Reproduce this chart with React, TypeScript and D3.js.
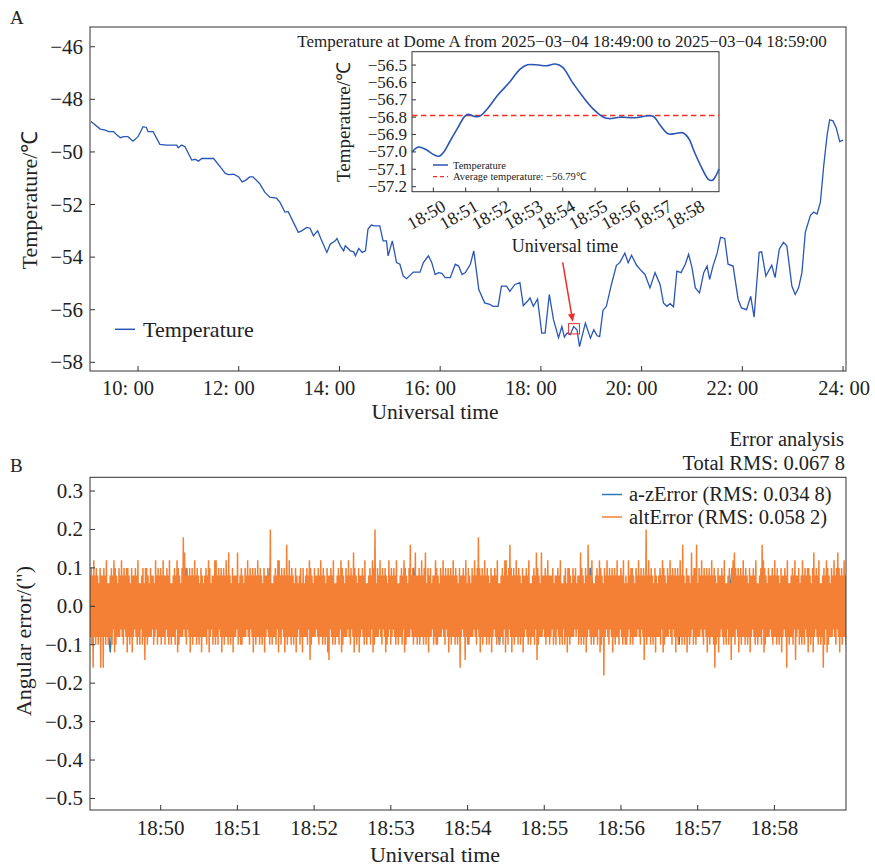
import React from "react";
import * as d3 from "d3";

const W = 875;
const H = 867;
const FONT = "'Liberation Serif', 'Times New Roman', Times, serif";
const BLUE = "#2a56b6";
const RED = "#ee2f27";
const AZ = "#2f7bb8";
const ALT = "#f38034";
const INK = "#222";

// Panel A: temperature over the day (minutes of day, °C)
const tempMinutes = [544, 555, 561, 565, 571, 575, 579, 583, 588, 594, 600, 606, 610, 612, 618, 626, 634, 646, 648, 652, 656, 664, 668, 672, 676, 690, 698, 704, 708, 714, 720, 724, 728, 733, 737, 745, 751, 757, 765, 769, 775, 779, 785, 791, 795, 801, 805, 809, 814, 818, 825, 829, 835, 837, 841, 845, 847, 853, 857, 859, 863, 867, 871, 874, 878, 882, 888, 892, 896, 898, 903, 908, 912, 916, 920, 928, 936, 940, 946, 950, 954, 958, 962, 966, 972, 978, 982, 986, 990, 996, 1000, 1004, 1006, 1013, 1019, 1023, 1029, 1033, 1039, 1043, 1049, 1055, 1059, 1064, 1067, 1071, 1076, 1081, 1085, 1090, 1095, 1101, 1105, 1108, 1111, 1115, 1119, 1123, 1126, 1133, 1139, 1143, 1147, 1150, 1154, 1158, 1164, 1170, 1174, 1180, 1184, 1188, 1194, 1200, 1204, 1210, 1216, 1222, 1226, 1230, 1234, 1238, 1242, 1247, 1252, 1256, 1260, 1264, 1269, 1274, 1278, 1281, 1285, 1290, 1294, 1299, 1303, 1309, 1315, 1319, 1325, 1330, 1334, 1340, 1343, 1348, 1355, 1359, 1364, 1369, 1373, 1379, 1383, 1387, 1391, 1395, 1401, 1405, 1409, 1413, 1417, 1421, 1424, 1428, 1432, 1436, 1440];
const tempValues = [-48.84, -49.13, -49.17, -49.23, -49.23, -49.36, -49.46, -49.42, -49.42, -49.59, -49.42, -49.04, -49.07, -49.23, -49.23, -49.71, -49.74, -49.74, -49.84, -49.74, -49.8, -50.31, -50.28, -50.35, -50.25, -50.25, -50.57, -50.82, -50.86, -50.85, -50.95, -51.14, -51.08, -50.95, -50.95, -51.21, -51.53, -51.72, -51.76, -51.91, -52.29, -52.27, -52.67, -53.06, -53.0, -52.87, -52.9, -53.19, -53.0, -53.31, -53.82, -53.51, -53.38, -53.29, -53.57, -53.76, -53.57, -53.76, -53.8, -53.95, -53.67, -53.82, -53.76, -52.93, -52.78, -52.81, -52.81, -53.38, -53.38, -53.95, -53.38, -54.21, -54.27, -54.72, -54.82, -54.57, -54.57, -54.21, -53.95, -54.21, -54.66, -54.59, -54.62, -54.78, -54.78, -54.27, -54.34, -54.66, -54.59, -54.27, -53.76, -54.72, -55.23, -55.74, -55.8, -55.87, -55.87, -55.1, -55.1, -55.3, -55.04, -54.97, -55.84, -55.68, -55.55, -55.87, -55.59, -56.89, -56.89, -55.42, -56.38, -57.06, -56.64, -57.04, -56.89, -56.95, -56.64, -56.76, -57.4, -56.51, -57.08, -56.76, -56.99, -57.02, -56.02, -55.87, -55.04, -54.31, -54.21, -53.85, -54.21, -53.93, -54.31, -54.53, -54.66, -55.17, -54.59, -55.04, -55.74, -55.87, -55.77, -55.89, -54.53, -54.59, -54.27, -53.89, -54.4, -55.17, -55.36, -54.59, -54.34, -54.85, -54.34, -53.85, -53.25, -53.29, -54.27, -54.34, -55.61, -55.93, -56.0, -55.49, -56.28, -53.82, -53.8, -54.72, -54.31, -54.78, -53.7, -53.44, -53.57, -55.1, -55.42, -55.17, -54.59, -53.06, -52.42, -52.29, -52.36, -51.91, -50.51, -49.36, -48.78, -48.82, -49.1, -49.61, -49.55];
const tempTicks = [600, 720, 840, 960, 1080, 1200, 1320, 1440];
const tempTickLabels = ["10: 00", "12: 00", "14: 00", "16: 00", "18: 00", "20: 00", "22: 00", "24: 00"];
const tempYTicks = [-58, -56, -54, -52, -50, -48, -46];

// inset: 18:49 - 18:59 (minutes after 18:00, °C)
const insetMinutes = [49.34, 49.54, 49.77, 50.0, 50.17, 50.34, 50.51, 50.74, 50.97, 51.08, 51.25, 51.43, 51.66, 52.0, 52.34, 52.69, 52.91, 53.26, 53.49, 53.77, 54.0, 54.29, 54.63, 54.97, 55.26, 55.43, 55.77, 56.23, 56.63, 56.8, 57.03, 57.26, 57.49, 57.71, 57.89, 58.06, 58.29, 58.51, 58.63, 58.74, 58.83];
const insetValues = [-57.0, -56.972, -56.986, -57.014, -57.025, -56.996, -56.94, -56.866, -56.795, -56.784, -56.795, -56.795, -56.754, -56.671, -56.602, -56.522, -56.498, -56.5, -56.504, -56.494, -56.513, -56.597, -56.684, -56.758, -56.8, -56.808, -56.8, -56.803, -56.792, -56.795, -56.851, -56.896, -56.894, -56.89, -56.921, -56.996, -57.089, -57.159, -57.163, -57.135, -57.098];
const insetAverage = -56.79;
const insetXTicks = [50, 51, 52, 53, 54, 55, 56, 57, 58];
const insetYTicks = [-57.2, -57.1, -57.0, -56.9, -56.8, -56.7, -56.6, -56.5];
// zoom box and arrow in the main panel
const zoomBox = { m0: 1113, m1: 1126, t0: -56.53, t1: -56.92 };
const arrow = { m0: 1106, t0: -54.2, m1: 1118, t1: -56.46 };

// Panel B: angular error, one code per sample, a=-0.20 ... k=0 ... u=+0.20 (step 0.02")
const azErrorCodes =
  "mimjlimiejmilimjmilmimjlimimji" + "imlimjmipmimjlimilmjimimjlimim" +
  "jmimilmjimipimlmijmimjlimimijm" + "mimjimlimjmimijmlimjimimlijmim" +
  "imjmimilpmimjmijmimlimjimmijmi" + "mjimimjlmimifmijmimlimjimimjmi" +
  "imjmimilmjimimjlimpmimijmimlim" + "jmimlimjimimimjlimimjmifmimjmi" +
  "mimijmlimimjimpmimjlimimjmimil" + "imjmimilmimjimimlmjimimjmimjmi";
const altErrorCodes =
  "ogpfocqgof" + "pgofngpcog" + "ocpgofqgnf" + "ngogpfohqe" + "pfogngpgoh" + "qgofphogpe" +
  "pgofngpeog" + "ohpgofqgnf" + "nhofpgndpg" + "pfogngpgoh" + "ofngqhofpg" + "ogpfogqgof" +
  "ohpgofqgnf" + "ngogpfohqe" + "pfogngpgth" + "rgofphogpe" + "ogpfogqgof" + "pgofngpeog" +
  "ngogpfohqe" + "pgnhofogqf" + "qgofphogpe" + "ogpfogqgof" + "rgofngpeog" + "ogohrfngof" +
  "pfogngpgoh" + "qgofphogpe" + "ogpfogqgof" + "pgofngpeog" + "ohpgofugnf" + "ngogpfohqe" +
  "qgofphogpe" + "ogsfogqgof" + "pgofngpeog" + "nhofpgnepg" + "ngogpfohqd" + "pfogngpgoh" +
  "ogpfogqgof" + "pgofngpeod" + "ohpgofqgnf" + "ngogpfohqe" + "pfogngpgoh" + "qgofphogre" +
  "pgofngpeog" + "ohpgofqgnf" + "ngogpfohqe" + "pfugngpgoh" + "qgofphogpe" + "ofngqhofpg" +
  "ohpgofqgnf" + "ngogpfohqe" + "pfogngpgsh" + "ogpfogrgof" + "ogpfogqgof" + "pgrfngpeog" +
  "pgnhofogqf" + "pfogngpgoh" + "qgofphogpe" + "ogpfogqgof" + "pgofngpcog" + "ohpgodqgnf" +
  "pfogngpgoh" + "qgofphtgpe" + "ogpfogqgof" + "pgofngpeog" + "ohpgofqgnf" + "ngogpfohqe" +
  "qgofphsgpe" + "ogpfogqgof" + "pgofngpeog" + "ohpgofqgnf" + "ngogpfohrd" + "pfogngrgoh" +
  "ogpfogqgof" + "ogohpfngof" + "ohpgofqgnf" + "nhofpgnepg" + "pfogngpgoh" + "pgnhofogrf" +
  "pgofngpeog" + "shpgofqgnf" + "ngogpfohqe" + "pfognbpgoh" + "qgofphogpe" + "ogpfogqgof" +
  "ohpgofqgnf" + "ofngqhofpg" + "pfogngpgoh" + "qgofphogpd" + "ogufogqgof" + "pgofngpeog" +
  "ngogpfohqe" + "pfogngpgoh" + "qgofphogpe" + "ogpfogqgof" + "sgofngpeog" + "ofngrhofpg" +
  "pfsgngpgoh" + "qgofphogpe" + "ogpfogqgof" + "pcofngpeog" + "ohpgofqgnf" + "nhofpgndpg" +
  "qgrfphogpe" + "ogpfogqgof" + "pgofngpeog" + "ohpgofqgnf" + "ngogpfshqe" + "pfogngpgoh" +
  "ogpfogqgof" + "pgofngpeog" + "ohpgocqgnf" + "ngogpfohqd" + "ogohpfngof" + "qgofphogpe" +
  "pgofngperg" + "ohpgofqgnf" + "ngocpfohqe" + "pfogngpgoh" + "qgofphrgpe" + "ogpfogqgof";
const errStart = 4.7; // seconds after 18:49:00
const errEnd = 596;
const errXTicks = [60, 120, 180, 240, 300, 360, 420, 480, 540];
const errXTickLabels = ["18:50", "18:51", "18:52", "18:53", "18:54", "18:55", "18:56", "18:57", "18:58"];
const errYTicks = [-0.5, -0.4, -0.3, -0.2, -0.1, 0, 0.1, 0.2, 0.3];

const decode = (codes: string) => Array.from(codes, (c) => (c.charCodeAt(0) - 107) * 0.02);
const fmt = (v: number, d: number) => (v < 0 ? "\u2212" : "") + Math.abs(v).toFixed(d);

export default function App() {
  // panel A scales
  const xA = d3.scaleLinear().domain([542.8, 1443.5]).range([90, 846]);
  const yA = d3.scaleLinear().domain([-58.33, -45.25]).range([371, 27]);
  const lineA = d3
    .line<number>()
    .x((_, i) => xA(tempMinutes[i]))
    .y((d) => yA(d));

  // inset scales
  const xI = d3.scaleLinear().domain([49.34, 58.83]).range([412, 719]);
  const yI = d3.scaleLinear().domain([-57.229, -56.423]).range([191.7, 51.7]);
  const lineI = d3
    .line<number>()
    .x((_, i) => xI(insetMinutes[i]))
    .y((d) => yI(d))
    .curve(d3.curveCatmullRom);

  // panel B scales
  const xB = d3.scaleLinear().domain([errStart, errEnd]).range([90, 846]);
  const yB = d3.scaleLinear().domain([-0.53, 0.3357]).range([810, 477.3]);
  const lineB = (vals: number[]) =>
    d3
      .line<number>()
      .x((_, i) => xB(errStart + (i * (errEnd - errStart)) / (vals.length - 1)))
      .y((d) => yB(d))(vals) || "";
  const azError = decode(azErrorCodes);
  const altError = decode(altErrorCodes);

  const ax0 = xA(arrow.m0), ay0 = yA(arrow.t0), ax1 = xA(arrow.m1), ay1 = yA(arrow.t1);
  const ang = Math.atan2(ay1 - ay0, ax1 - ax0);
  const hl = 8, hw = 3.5;
  const head = [
    [ax1, ay1],
    [ax1 - hl * Math.cos(ang) + hw * Math.sin(ang), ay1 - hl * Math.sin(ang) - hw * Math.cos(ang)],
    [ax1 - hl * Math.cos(ang) - hw * Math.sin(ang), ay1 - hl * Math.sin(ang) + hw * Math.cos(ang)],
  ]
    .map((p) => p.join(","))
    .join(" ");

  return (
    <svg
      width={W}
      height={H}
      style={{ position: "absolute", left: 0, top: 0, background: "#fff" }}
      fontFamily={FONT}
      fill={INK}
    >
      <defs>
        <clipPath id="clipA">
          <rect x={90} y={27} width={756} height={344} />
        </clipPath>
        <clipPath id="clipB">
          <rect x={90} y={477.3} width={756} height={332.7} />
        </clipPath>
      </defs>
      <rect width={W} height={H} fill="#fff" />

      {/* ---------- panel A ---------- */}
      <text x={10} y={24} fontSize={19}>A</text>
      <path d={lineA(tempValues) || ""} fill="none" stroke={BLUE} strokeWidth={1.3} clipPath="url(#clipA)" />
      <rect x={90} y={27} width={756} height={344} fill="none" stroke="#333" strokeWidth={1} />
      {tempYTicks.map((v) => (
        <g key={v}>
          <line x1={90} x2={95} y1={yA(v)} y2={yA(v)} stroke="#333" />
          <text x={83} y={yA(v) + 7} fontSize={21} textAnchor="end">{fmt(v, 0)}</text>
        </g>
      ))}
      {tempTicks.map((m, i) => (
        <g key={m}>
          <line x1={xA(m)} x2={xA(m)} y1={371} y2={366} stroke="#333" />
          <text x={xA(m) + (i === tempTicks.length - 1 ? 1 : -10)} y={394.5} fontSize={20.5} textAnchor="middle">
            {tempTickLabels[i]}
          </text>
        </g>
      ))}
      <text x={435} y={418.5} fontSize={21.5} textAnchor="middle">Universal time</text>
      <text transform="translate(37,200) rotate(-90)" fontSize={22} textAnchor="middle">Temperature/℃</text>
      <line x1={115} x2={135} y1={329.3} y2={329.3} stroke={BLUE} strokeWidth={1.5} />
      <text x={143} y={336.5} fontSize={22}>Temperature</text>

      {/* zoom box + arrow */}
      <rect
        x={xA(zoomBox.m0)}
        y={yA(zoomBox.t0)}
        width={xA(zoomBox.m1) - xA(zoomBox.m0)}
        height={yA(zoomBox.t1) - yA(zoomBox.t0)}
        fill="none"
        stroke={RED}
        strokeWidth={1}
      />
      <line x1={ax0} y1={ay0} x2={ax1 - 6 * Math.cos(ang)} y2={ay1 - 6 * Math.sin(ang)} stroke={RED} strokeWidth={1.5} />
      <polygon points={head} fill={RED} />

      {/* inset */}
      <rect x={412} y={51.7} width={307} height={140} fill="#fff" stroke="#333" strokeWidth={1} />
      <line x1={412} x2={719} y1={yI(insetAverage)} y2={yI(insetAverage)} stroke={RED} strokeWidth={1.4} strokeDasharray="5.5,3.5" />
      <path d={lineI(insetValues) || ""} fill="none" stroke={BLUE} strokeWidth={1.6} />
      {insetYTicks.map((v) => (
        <g key={v}>
          <line x1={412} x2={416} y1={yI(v)} y2={yI(v)} stroke="#333" />
          <text x={407} y={yI(v) + 5.5} fontSize={17} textAnchor="end">{fmt(v, 1)}</text>
        </g>
      ))}
      {insetXTicks.map((m) => (
        <g key={m}>
          <line x1={xI(m)} x2={xI(m)} y1={191.7} y2={187.5} stroke="#333" />
          <text
            transform={`translate(${xI(m) - 4},${220}) rotate(-30)`}
            fontSize={18}
            textAnchor="middle"
          >{`18:${m}`}</text>
        </g>
      ))}
      <text x={565} y={252} fontSize={18} textAnchor="middle">Universal time</text>
      <text transform="translate(350,122) rotate(-90)" fontSize={19} textAnchor="middle">Temperature/℃</text>
      <text x={562} y={47} fontSize={17} textAnchor="middle">
        Temperature at Dome A from 2025−03−04 18:49:00 to 2025−03−04 18:59:00
      </text>
      <line x1={433} x2={448} y1={165} y2={165} stroke={BLUE} strokeWidth={1.5} />
      <text x={453} y={168.5} fontSize={10.5}>Temperature</text>
      <line x1={433} x2={448} y1={176.7} y2={176.7} stroke={RED} strokeWidth={1.3} strokeDasharray="4,3" />
      <text x={453} y={180.3} fontSize={10.5}>Average temperature: −56.79℃</text>

      {/* ---------- panel B ---------- */}
      <text x={10} y={472} fontSize={19}>B</text>
      <g clipPath="url(#clipB)">
        <path d={lineB(azError)} fill="none" stroke={AZ} strokeWidth={1.4} />
        <path d={lineB(altError)} fill="none" stroke={ALT} strokeWidth={1.5} strokeLinejoin="bevel" />
      </g>
      <rect x={90} y={477.3} width={756} height={332.7} fill="none" stroke="#333" strokeWidth={1} />
      {errYTicks.map((v) => (
        <g key={v}>
          <line x1={90} x2={95} y1={yB(v)} y2={yB(v)} stroke="#333" />
          <text x={83} y={yB(v) + 7} fontSize={21} textAnchor="end">{fmt(v, 1)}</text>
        </g>
      ))}
      {errXTicks.map((s, i) => (
        <g key={s}>
          <line x1={xB(s)} x2={xB(s)} y1={810} y2={805} stroke="#333" />
          <text x={xB(s)} y={835} fontSize={21} textAnchor="middle">{errXTickLabels[i]}</text>
        </g>
      ))}
      <text x={435} y={862} fontSize={22} textAnchor="middle">Universal time</text>
      <text transform="translate(31,641) rotate(-90)" fontSize={22} textAnchor="middle">Angular error/(")</text>
      <text x={844} y={446} fontSize={20.5} textAnchor="end">Error analysis</text>
      <text x={845} y={469.5} fontSize={20.5} textAnchor="end">Total RMS: 0.067 8</text>
      <line x1={602} x2={622} y1={494.5} y2={494.5} stroke={AZ} strokeWidth={1.5} />
      <text x={629} y={500.5} fontSize={20.5}>a-zError (RMS: 0.034 8)</text>
      <line x1={602} x2={622} y1={517} y2={517} stroke={ALT} strokeWidth={1.5} />
      <text x={629} y={523.5} fontSize={20.5}>altError (RMS: 0.058 2)</text>
    </svg>
  );
}
